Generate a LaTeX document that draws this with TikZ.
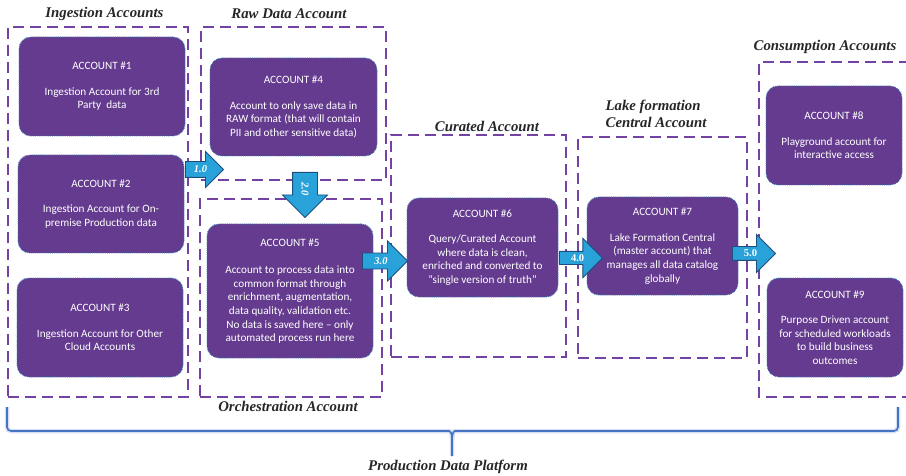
\documentclass[tikz,border=0pt]{standalone}
\usepackage{fontspec}
\setmainfont{Liberation Serif}
\newfontfamily\boxfont{Carlito}
\usetikzlibrary{shapes.arrows}

\definecolor{acctfill}{HTML}{643B8E}
\definecolor{acctedge}{HTML}{3F74AE}
\definecolor{zone}{HTML}{7442A2}
\definecolor{flowfill}{HTML}{29A2DA}
\definecolor{flowedge}{HTML}{1D4E7E}
\definecolor{bracecol}{HTML}{4472C4}

\tikzset{
  zonebox/.style={draw=zone, line width=2.3pt, dash pattern=on 11pt off 6pt, inner sep=0pt},
  acct/.style={draw=acctedge, densely dotted, line width=0.9pt, fill=acctfill,
    rounded corners=12pt, text=white, align=center, inner sep=0pt,
    font=\boxfont\fontsize{11.2}{13.6}\selectfont},
  zonetitle/.style={font=\fontsize{14.8}{16}\selectfont\bfseries\itshape, text=black!85, inner sep=0pt},
  flow/.style={single arrow, draw=flowedge, line width=0.9pt, fill=flowfill, text=white,
    font=\fontsize{10.5}{11}\selectfont\bfseries, inner xsep=2pt, text height=7pt, text depth=0pt},
}

\begin{document}
\begin{tikzpicture}[x=1pt, y=-1pt]
\useasboundingbox (0,0) rectangle (906,476);

% account groups (dashed frames)
\node[zonebox, minimum width=180pt, minimum height=370pt] (ingest) at (98,212) {};
\node[zonebox, minimum width=185pt, minimum height=153pt] (raw) at (293.5,103.5) {};
\node[zonebox, minimum width=182pt, minimum height=198pt] (orch) at (291,298) {};
\node[zonebox, minimum width=175pt, minimum height=222pt] (cur) at (478.5,246) {};
\node[zonebox, minimum width=169pt, minimum height=221pt] (lake) at (662.5,247.5) {};
\draw[zonebox] (910,62) -| (759,397) -- (910,397);
\coordinate (cons) at (830,62);

% group titles
\node[zonetitle] (t-ingest) at (104.5,14) {Ingestion Accounts};
\node[zonetitle] (t-raw) at (289,14) {Raw Data Account};
\node[zonetitle] (t-orch) at (288,406) {Orchestration Account};
\node[zonetitle] (t-cur) at (487,126) {Curated Account};
\node[zonetitle, align=left, font=\fontsize{14.8}{17.5}\selectfont\bfseries\itshape] (t-lake) at (656,114) {Lake formation\\Central Account};
\node[zonetitle] (t-cons) at (825,47) {Consumption Accounts};

% accounts
\node[acct, minimum width=166pt, minimum height=99pt] (a1) at (102,86.5)
  {ACCOUNT \#1\\[12pt]Ingestion Account for 3rd\\Party~~data};
\node[acct, minimum width=166pt, minimum height=98pt] (a2) at (101,204)
  {ACCOUNT \#2\\[12pt]Ingestion Account for On-\\premise Production data};
\node[acct, minimum width=166pt, minimum height=99pt] (a3) at (100,327.5)
  {ACCOUNT \#3\\[12pt]Ingestion Account for Other\\Cloud Accounts};
\node[acct, minimum width=167pt, minimum height=98pt] (a4) at (293.5,107)
  {ACCOUNT \#4\\[12pt]Account to only save data in\\RAW format (that will contain\\PII and other sensitive data)};
\node[acct, minimum width=166pt, minimum height=134pt] (a5) at (290,291)
  {ACCOUNT \#5\\[14pt]Account to process data into\\common format through\\enrichment, augmentation,\\data quality, validation etc.\\No data is saved here – only\\automated process run here};
\node[acct, minimum width=151pt, minimum height=99pt] (a6) at (482.5,247.5)
  {ACCOUNT \#6\\[12pt]Query/Curated Account\\where data is clean,\\enriched and converted to\\“single version of truth”};
\node[acct, minimum width=151pt, minimum height=98pt] (a7) at (662.5,246)
  {ACCOUNT \#7\\[12pt]Lake Formation Central\\(master account) that\\manages all data catalog\\globally};
\node[acct, minimum width=136pt, minimum height=99pt] (a8) at (834,135.5)
  {ACCOUNT \#8\\[12pt]Playground account for\\interactive access};
\node[acct, minimum width=136pt, minimum height=99pt] (a9) at (835,327.5)
  {ACCOUNT \#9\\[12pt]Purpose Driven account\\for scheduled workloads\\to build business\\outcomes};

% data flow steps
\node[flow, anchor=tail, minimum height=38pt, single arrow head extend=10pt, inner ysep=4pt]
  (f1) at (185,169.5) {\itshape 1.0};
\node[flow, rotate=-90, anchor=tail, minimum height=45pt, single arrow head extend=10pt, inner ysep=8.5pt]
  (f2) at (305,172) {\itshape 2.0};
\node[flow, anchor=tail, minimum height=45pt, single arrow head extend=12pt, inner ysep=4pt]
  (f3) at (362,261) {\itshape 3.0};
\node[flow, anchor=tail, minimum height=43pt, single arrow head extend=13pt, inner ysep=2.6pt]
  (f4) at (559,258) {4.0};
\node[flow, anchor=tail, minimum height=43pt, single arrow head extend=12pt, inner ysep=3pt]
  (f5) at (732,253.5) {5.0};

% platform brace
\coordinate (bl) at (7,407);
\coordinate (br) at (898,407);
\coordinate (bm) at (452,456);
\foreach \w/\c in {4.5pt/bracecol!22, 1.6pt/bracecol}{
  \draw[line width=\w, \c, rounded corners=4pt] (bl) -- (7,431) -- (445,431)
    .. controls (450,431) and (452,433) .. (452,440) -- (bm);
  \draw[line width=\w, \c, rounded corners=4pt] (br) -- (898,431) -- (459,431)
    .. controls (454,431) and (452,433) .. (452,440);
}
\node[zonetitle] (platform) at (448,467) {Production Data Platform};

\end{tikzpicture}
\end{document}
